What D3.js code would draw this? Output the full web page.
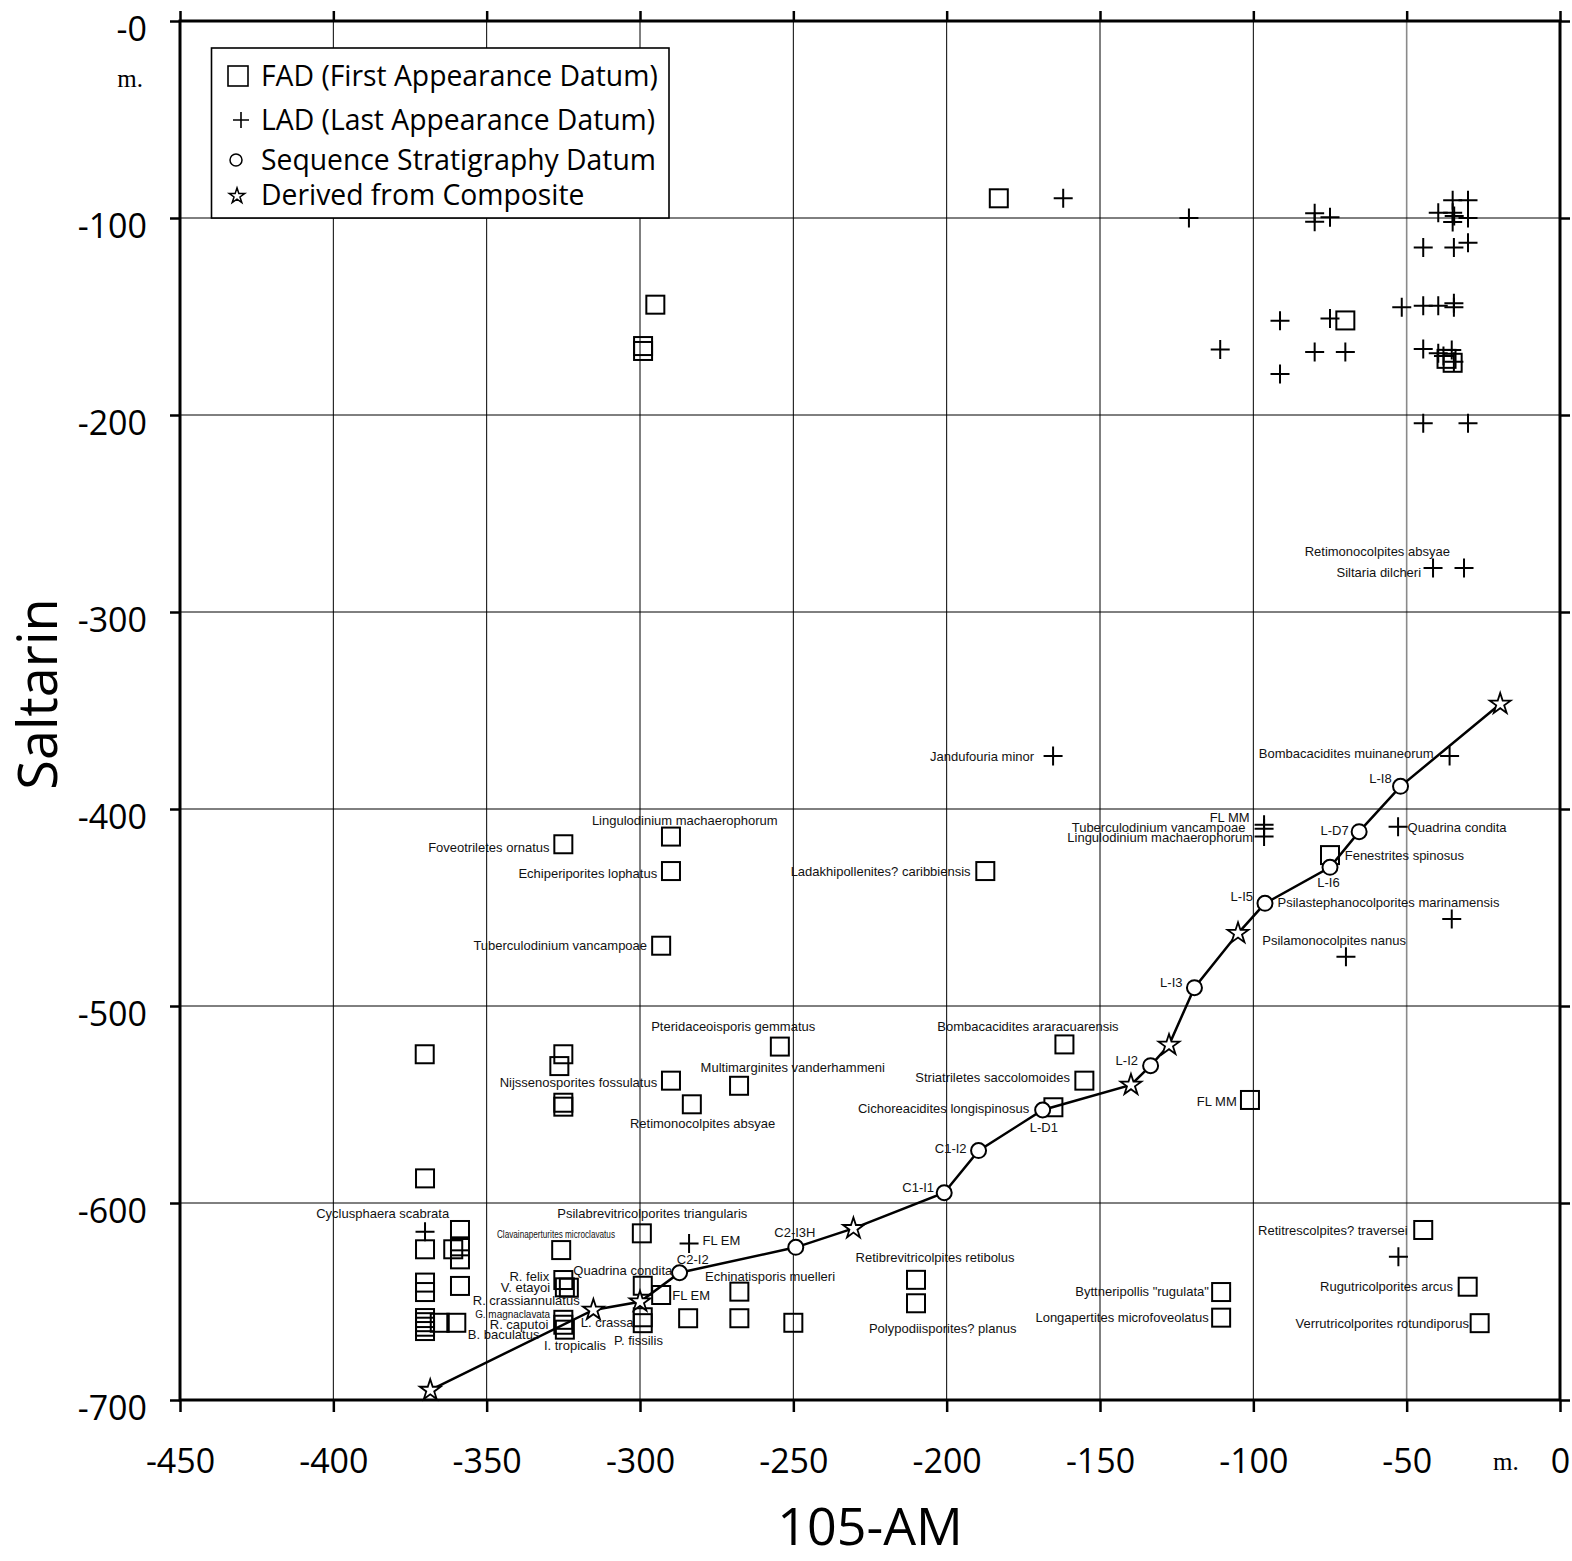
<!DOCTYPE html>
<html><head><meta charset="utf-8">
<script src="https://cdn.jsdelivr.net/npm/d3@7"></script>
<style>body{margin:0;background:#fff}</style>
</head><body>
<svg id="c" width="1572" height="1561" xmlns="http://www.w3.org/2000/svg"></svg>
<script>
// ---------- data ----------
const xTicks = [-450,-400,-350,-300,-250,-200,-150,-100,-50,0];
const xTickLabels = ["-450","-400","-350","-300","-250","-200","-150","-100","-50","0"];
const yTicks = [0,-100,-200,-300,-400,-500,-600,-700];
const yTickLabels = ["-0","-100","-200","-300","-400","-500","-600","-700"];
const xTitle = "105-AM";
const yTitle = "Saltarin";
const unitLabel = "m.";
const legendLabels = ["FAD (First Appearance Datum)","LAD (Last Appearance Datum)","Sequence Stratigraphy Datum","Derived from Composite"];

// FAD (squares): [105-AM, Saltarin]
const fadPoints = [
  [-183,-90],[-295,-144],[-299,-165],[-299,-167.5],[-70,-152],[-37,-171.5],[-35,-173.5],
  [-325,-417.9],[-289.9,-414],[-289.9,-431.5],[-293.1,-469.4],[-187.4,-431.5],[-75,-423.4],
  [-370.2,-524.5],[-325,-524.5],[-326.3,-530.5],[-325,-549.1],[-325,-551.1],[-254.4,-520.6],
  [-289.9,-537.9],[-267.7,-540.5],[-283.1,-549.9],[-161.6,-519.5],[-155.1,-537.9],[-165.2,-551.4],
  [-101.1,-547.7],[-370.1,-587.5],
  [-358.7,-613.7],[-370.1,-623.5],[-360.9,-623.5],[-358.7,-622],[-358.7,-628.6],
  [-370.1,-640.4],[-370.1,-645.2],[-358.7,-642.1],
  [-370.1,-658.4],[-370.1,-660.5],[-370.1,-662.8],[-370.1,-665],[-365.3,-660.8],[-359.9,-660.8],
  [-325.7,-623.9],[-325,-639.1],[-324.5,-642.8],[-323.2,-643],[-325,-659.3],[-325,-661.8],[-324.5,-664.3],
  [-299.4,-615.4],[-299.1,-642],[-293.1,-646.7],[-299.1,-658],[-299.1,-661],[-284.3,-658.5],
  [-267.6,-645],[-267.6,-658.5],[-250,-660.8],
  [-210,-639],[-210,-650.9],[-110.5,-645.2],[-110.5,-658.2],[-44.6,-613.7],[-30.1,-642.5],[-26.2,-661]
];
// LAD (crosses)
const ladPoints = [
  [-162,-90],[-121,-100],[-80,-97.6],[-80,-101.9],[-75,-99.6],[-110.8,-166.7],[-91.3,-152.1],[-91.3,-179.2],
  [-80,-168],[-75,-151],[-70,-168],[-51.6,-145.3],[-44.6,-144.5],[-39.7,-144.5],[-34.6,-143.3],[-34.6,-145.3],
  [-44.6,-115],[-34.6,-115],[-30,-112.5],[-35,-91],[-30,-91],[-39.7,-97.3],[-35,-97.3],[-34.5,-99],[-35,-102],
  [-30,-100],[-44.6,-166.5],[-39.7,-168.7],[-35.3,-167],[-38,-170],[-34.6,-173],[-44.6,-204.2],[-30,-204.2],
  [-41.4,-277.7],[-31.3,-277.7],
  [-165.3,-373.1],[-36,-373.1],[-96.5,-408],[-96.5,-410],[-96.5,-414],[-52.8,-409],[-35.3,-455.8],[-69.8,-475],
  [-370.1,-614.6],[-284,-620.5],[-52.7,-627.3]
];
// Sequence stratigraphy datums (circles)
const seqPoints = [
  [-287.1,-635.4],[-249.2,-622.5],[-200.8,-594.8],[-189.6,-573.4],[-168.7,-552.8],[-133.5,-530.3],
  [-119.2,-490.7],[-96.2,-447.9],[-75,-429.6],[-65.5,-411.5],[-52,-388.5]
];
// Derived from composite (stars)
const starPoints = [
  [-368.4,-695],[-315.2,-654.3],[-300,-650.1],[-230.4,-612.9],[-139.9,-540.1],[-127.5,-519.8],[-105,-463.1],[-19.5,-346.7]
];
// Annotations: [text, x, y, anchor]
const labels = [
  ["Retimonocolpites absyae",-35.9,-269.0,"end"],
  ["Siltaria dilcheri",-45.3,-279.7,"end"],
  ["Jandufouria minor",-171.5,-373.1,"end"],
  ["Bombacacidites muinaneorum",-41.2,-371.6,"end"],
  ["L-I8",-54.9,-384.3,"end"],
  ["FL MM",-101.2,-404.2,"end"],
  ["Tuberculodinium vancampoae",-102.6,-409.3,"end"],
  ["Lingulodinium machaerophorum",-100.1,-414.3,"end"],
  ["L-D7",-68.9,-410.7,"end"],
  ["Quadrina condita",-49.7,-409.1,"start"],
  ["Fenestrites spinosus",-70.2,-423.4,"start"],
  ["L-I6",-75.5,-437.4,"middle"],
  ["L-I5",-100.1,-444.2,"end"],
  ["Psilastephanocolporites marinamensis",-92.1,-447.6,"start"],
  ["Psilamonocolpites nanus",-97.1,-466.5,"start"],
  ["L-I3",-123.1,-488.2,"end"],
  ["Bombacacidites araracuarensis",-173.5,-510.5,"middle"],
  ["Striatriletes saccolomoides",-159.8,-536.4,"end"],
  ["L-I2",-137.6,-527.8,"end"],
  ["Cichoreacidites longispinosus",-173.1,-551.9,"end"],
  ["L-D1",-168.3,-561.4,"middle"],
  ["FL MM",-105.4,-548.2,"end"],
  ["C1-I2",-193.5,-572.1,"end"],
  ["C1-I1",-204.1,-592.2,"end"],
  ["Retibrevitricolpites retibolus",-203.8,-627.8,"middle"],
  ["Polypodiisporites? planus",-201.3,-663.5,"middle"],
  ["Byttneripollis \"rugulata\"",-114.5,-645,"end"],
  ["Longapertites microfoveolatus",-114.5,-658.2,"end"],
  ["Retitrescolpites? traversei",-49.7,-613.7,"end"],
  ["Rugutricolporites arcus",-34.9,-642.5,"end"],
  ["Verrutricolporites rotundiporus",-29.7,-661.1,"end"],
  ["Foveotriletes ornatus",-329.5,-419.6,"end"],
  ["Lingulodinium machaerophorum",-285.4,-405.6,"middle"],
  ["Echiperiporites lophatus",-294.4,-432.6,"end"],
  ["Tuberculodinium vancampoae",-297.7,-469.4,"end"],
  ["Ladakhipollenites? caribbiensis",-192.2,-431.5,"end"],
  ["Pteridaceoisporis gemmatus",-269.6,-510.5,"middle"],
  ["Nijssenosporites fossulatus",-294.4,-538.9,"end"],
  ["Multimarginites vanderhammeni",-250.2,-531.3,"middle"],
  ["Retimonocolpites absyae",-279.6,-559.5,"middle"],
  ["Cyclusphaera scabrata",-383.9,-605.2,"middle"],
  ["Clavainaperturites microclavatus",-327.4,-615.7,"middle"],
  ["Psilabrevitricolporites triangularis",-296,-605.2,"middle"],
  ["FL EM",-279.6,-619.1,"start"],
  ["C2-I2",-282.8,-628.6,"middle"],
  ["C2-I3H",-249.5,-615.1,"middle"],
  ["Quadrina condita",-305.6,-634.4,"middle"],
  ["R. felix",-329.6,-637.1,"end"],
  ["V. etayoi",-329.3,-642.8,"end"],
  ["R. crassiannulatus",-337.1,-649.4,"middle"],
  ["G. magnaclavata",-329.3,-656.3,"end"],
  ["R. caputoi",-329.9,-661.4,"end"],
  ["B. baculatus",-332.8,-666.8,"end"],
  ["I. tropicalis",-321.2,-672.4,"middle"],
  ["L. crassa",-319.3,-660.8,"start"],
  ["P. fissilis",-300.5,-669.5,"middle"],
  ["FL EM",-289.5,-647.1,"start"],
  ["Echinatisporis muelleri",-257.6,-637.4,"middle"]
];
const condensedLabels = {"Clavainaperturites microclavatus":118, "G. magnaclavata":75};

// ---------- drawing ----------
const svg = d3.select('#c');
svg.append('rect').attr('width',1572).attr('height',1561).attr('fill','#fff');
const x = d3.scaleLinear().domain([-450,0]).range([180,1560]);
const y = d3.scaleLinear().domain([0,-700]).range([21,1400]);
const SANS = "'Open Sans', sans-serif";
const LAB = "'Liberation Sans', Arial, sans-serif";

// grid
const grid = svg.append('g');
xTicks.slice(1,-1).forEach(t=>{
  grid.append('line').attr('x1',x(t)).attr('x2',x(t)).attr('y1',y(0)).attr('y2',y(-700))
    .attr('stroke', t===-50 ? '#8a8a8a' : '#000').attr('stroke-width', t===-50?1.6:1);
});
yTicks.slice(1,-1).forEach(t=>{
  grid.append('line').attr('x1',x(-450)).attr('x2',x(0)).attr('y1',y(t)).attr('y2',y(t))
    .attr('stroke','#000').attr('stroke-width',1);
});

// axes
function styleAxis(g){
  g.selectAll('.domain').remove();
  g.selectAll('.tick line').attr('stroke','#000').attr('stroke-width',2.5);
  g.selectAll('.tick text').attr('font-family',SANS).attr('font-size',34).attr('fill','#000');
}
svg.append('g').attr('transform',`translate(0,${y(-700)})`)
  .call(d3.axisBottom(x).tickValues(xTicks).tickSize(12).tickSizeOuter(0).tickPadding(37)
    .tickFormat((d,i)=>xTickLabels[i])).call(styleAxis);
svg.append('g').attr('transform',`translate(0,${y(0)})`)
  .call(d3.axisTop(x).tickValues(xTicks).tickSize(10).tickSizeOuter(0).tickFormat(''))
  .call(styleAxis);
const gl = svg.append('g').attr('transform',`translate(${x(-450)},0)`)
  .call(d3.axisLeft(y).tickValues(yTicks).tickSize(10).tickSizeOuter(0).tickPadding(23)
    .tickFormat((d,i)=>yTickLabels[i])).call(styleAxis);
gl.selectAll('.tick text').attr('dy','0.57em');
svg.append('g').attr('transform',`translate(${x(0)},0)`)
  .call(d3.axisRight(y).tickValues(yTicks).tickSize(10).tickSizeOuter(0).tickFormat(''))
  .call(styleAxis);

// frame
svg.append('rect').attr('x',x(-450)).attr('y',y(0)).attr('width',x(0)-x(-450)).attr('height',y(-700)-y(0))
  .attr('fill','none').attr('stroke','#000').attr('stroke-width',3);

// unit labels
svg.append('text').attr('x',143).attr('y',87).attr('text-anchor','end')
  .attr('font-family',"'Liberation Serif', 'DejaVu Serif', serif").attr('font-size',25).text(unitLabel);
svg.append('text').attr('x',1493).attr('y',1470)
  .attr('font-family',"'Liberation Serif', 'DejaVu Serif', serif").attr('font-size',25).text(unitLabel);

// axis titles
svg.append('text').attr('x',870).attr('y',1545).attr('text-anchor','middle')
  .attr('font-family',SANS).attr('font-size',52).text(xTitle);
svg.append('text').attr('transform','translate(57,694) rotate(-90)').attr('text-anchor','middle')
  .attr('font-family',SANS).attr('font-size',54).text(yTitle);

// composite line
const linePts = seqPoints.concat(starPoints).slice().sort((a,b)=>a[1]-b[1]);
svg.append('path').datum(linePts)
  .attr('d', d3.line().x(d=>x(d[0])).y(d=>y(d[1])))
  .attr('fill','none').attr('stroke','#000').attr('stroke-width',2.5);

// squares
const S = 18;
svg.append('g').selectAll('rect').data(fadPoints).join('rect')
  .attr('x',d=>x(d[0])-S/2).attr('y',d=>y(d[1])-S/2).attr('width',S).attr('height',S)
  .attr('fill','none').attr('stroke','#000').attr('stroke-width',2);

// crosses
svg.append('g').selectAll('path').data(ladPoints).join('path')
  .attr('transform',d=>`translate(${x(d[0])},${y(d[1])})`)
  .attr('d','M-9.5,0H9.5M0,-9.5V9.5')
  .attr('stroke','#000').attr('stroke-width',2).attr('fill','none');

// circles
svg.append('g').selectAll('circle').data(seqPoints).join('circle')
  .attr('cx',d=>x(d[0])).attr('cy',d=>y(d[1])).attr('r',7.5)
  .attr('fill','#fff').attr('stroke','#000').attr('stroke-width',2);

// stars
const starPath = d3.symbol(d3.symbolStar, 135)();
svg.append('g').selectAll('path').data(starPoints).join('path')
  .attr('transform',d=>`translate(${x(d[0])},${y(d[1])})`)
  .attr('d',starPath).attr('fill','#fff').attr('stroke','#000').attr('stroke-width',1.8);

// annotations
const lg = svg.append('g').attr('font-family',LAB).attr('font-size',13).attr('fill','#111');
labels.forEach(([t,lx,ly,anc])=>{
  const el = lg.append('text').attr('x',x(lx)).attr('y',y(ly)).attr('dy','0.36em')
    .attr('text-anchor',anc).text(t);
  if (condensedLabels[t]) {
    el.attr('font-size',11).attr('textLength',condensedLabels[t]).attr('lengthAdjust','spacingAndGlyphs');
  }
});

// legend
const leg = svg.append('g');
leg.append('rect').attr('x',211.5).attr('y',48).attr('width',457.5).attr('height',170)
  .attr('fill','#fff').attr('stroke','#000').attr('stroke-width',1.6);
const legY = [76,120,160,195];
leg.append('rect').attr('x',228).attr('y',legY[0]-10).attr('width',20).attr('height',20)
  .attr('fill','none').attr('stroke','#000').attr('stroke-width',1.6);
leg.append('path').attr('transform',`translate(241,${legY[1]})`).attr('d','M-8,0H8M0,-8V8')
  .attr('stroke','#000').attr('stroke-width',1.6);
leg.append('circle').attr('cx',236).attr('cy',legY[2]).attr('r',6)
  .attr('fill','none').attr('stroke','#000').attr('stroke-width',1.5);
leg.append('path').attr('transform',`translate(237,${legY[3]+1})`).attr('d',d3.symbol(d3.symbolStar,75)())
  .attr('fill','none').attr('stroke','#000').attr('stroke-width',1.5);
legendLabels.forEach((t,i)=>{
  leg.append('text').attr('x',261).attr('y',legY[i]).attr('dy','0.36em')
    .attr('font-family',SANS).attr('font-size',28.3).attr('fill','#000').text(t);
});
</script>
</body></html>
